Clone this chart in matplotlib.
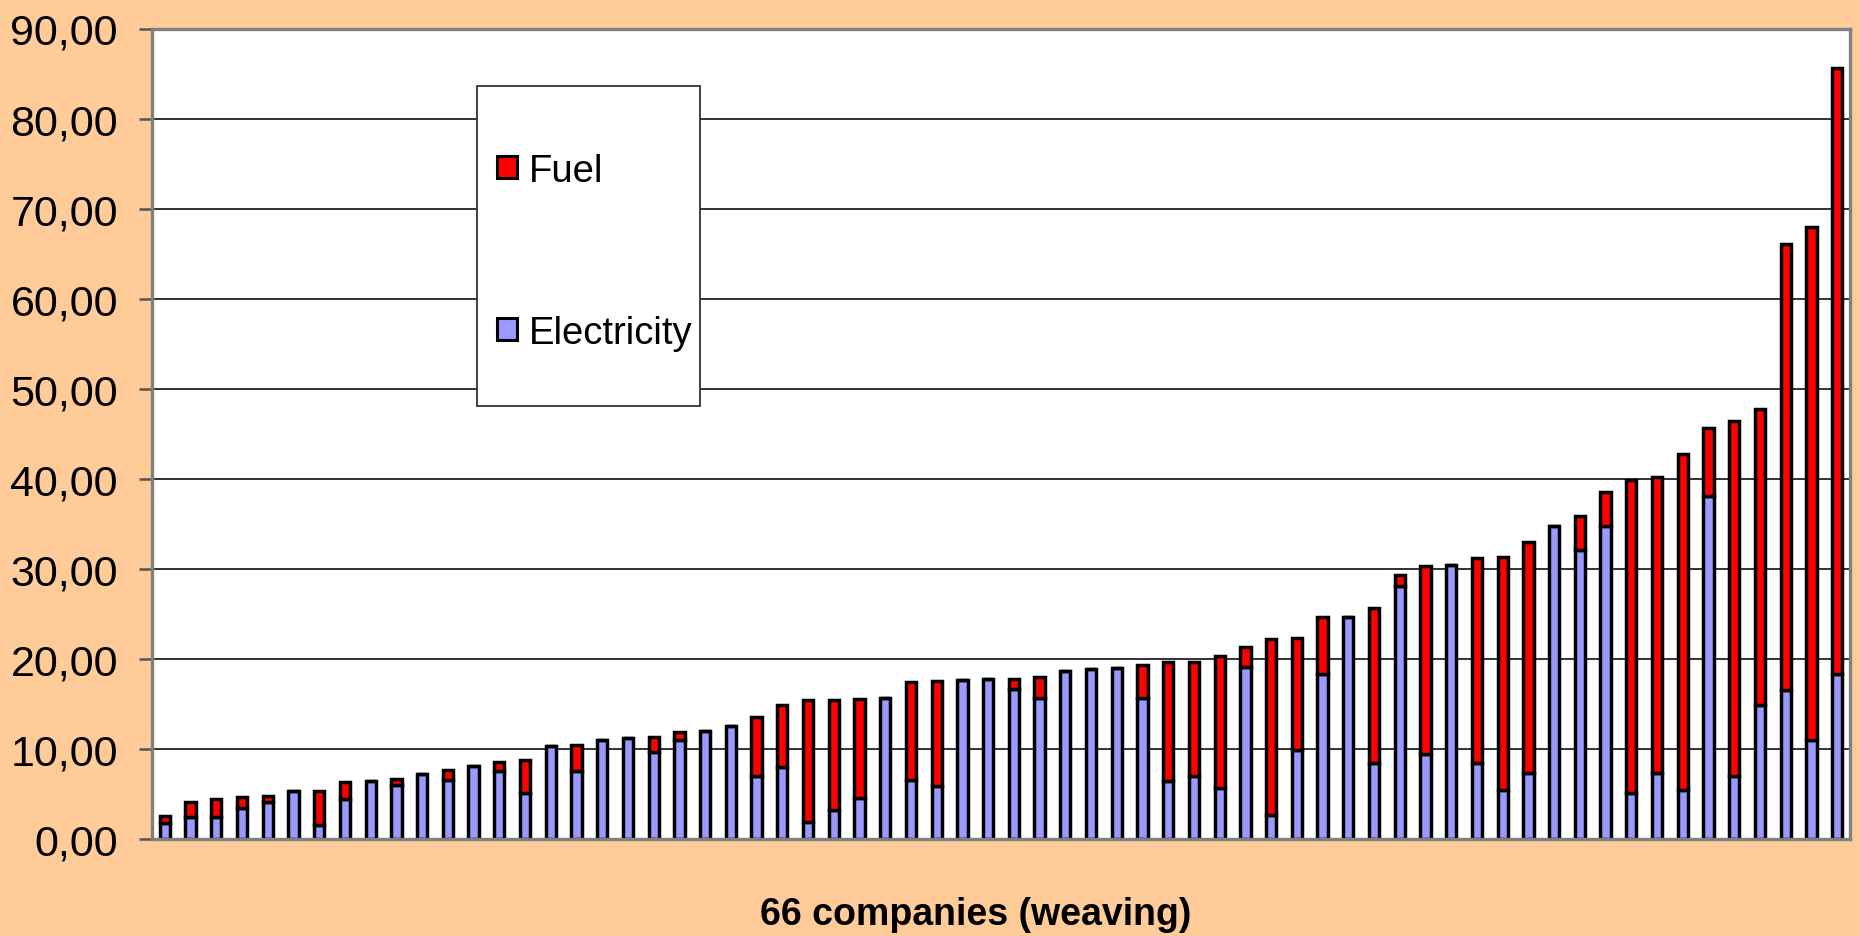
import matplotlib
matplotlib.use("Agg")
import matplotlib.pyplot as plt
from matplotlib.patches import Rectangle
import numpy as np

plt.rcParams['font.family'] = ['Liberation Sans', 'DejaVu Sans']

electricity = [1.8, 2.4, 2.4, 3.4, 4.1, 5.3, 1.6, 4.4, 6.4, 6.0,
               7.2, 6.5, 8.1, 7.6, 5.1, 10.3, 7.5, 11.0, 11.2, 9.7,
               11.0, 12.0, 12.6, 7.0, 8.0, 1.9, 3.2, 4.5, 15.7, 6.5,
               5.9, 17.7, 17.8, 16.7, 15.7, 18.7, 18.9, 19.0, 15.7, 6.4,
               7.0, 5.7, 19.1, 2.7, 9.9, 18.3, 24.7, 8.4, 28.1, 9.4,
               30.4, 8.4, 5.4, 7.3, 34.8, 32.1, 34.8, 5.1, 7.3, 5.4,
               38.1, 7.0, 14.9, 16.5, 11.0, 18.3]
fuel = [0.7, 1.7, 2.0, 1.3, 0.7, 0.0, 3.7, 1.9, 0.0, 0.7,
        0.0, 1.2, 0.0, 1.0, 3.7, 0.0, 2.9, 0.0, 0.0, 1.6,
        0.9, 0.0, 0.0, 6.5, 6.9, 13.5, 12.2, 11.1, 0.0, 10.9,
        11.6, 0.0, 0.0, 1.1, 2.3, 0.0, 0.0, 0.0, 3.6, 13.2,
        12.7, 14.6, 2.2, 19.5, 12.4, 6.4, 0.0, 17.2, 1.2, 20.9,
        0.0, 22.8, 25.9, 25.7, 0.0, 3.8, 3.7, 34.8, 32.9, 37.3,
        7.5, 39.4, 32.8, 49.6, 57.0, 67.3]
series_names = ["Fuel", "Electricity"]
y_ticks = [0, 10, 20, 30, 40, 50, 60, 70, 80, 90]
x_title = "66 companies (weaving)"

BG = "#FFCC99"
RED = "#FF0000"
BLUE = "#9999FF"

fig = plt.figure(figsize=(18.6, 9.37), dpi=100, facecolor=BG)
W, H = 1860, 937
ax = fig.add_axes([152 / W, 1 - 840 / H, (1850 - 152) / W, (840 - 29.5) / H])
ax.set_facecolor("white")

x = np.arange(len(electricity))
bw = 0.40
ax.bar(x, electricity, width=bw, color=BLUE, edgecolor="black", linewidth=2.5, zorder=3)
ax.bar(x, fuel, width=bw, bottom=electricity, color=RED, edgecolor="black", linewidth=2.5, zorder=3)

ax.set_xlim(-0.5, len(electricity) - 0.5)
ax.set_ylim(0, 90)
ax.set_yticks(y_ticks)
ax.set_yticklabels([f"{v:.2f}".replace(".", ",") for v in y_ticks], fontsize=31)
ax.set_xticks([])
ax.yaxis.grid(True, color="#222222", linewidth=1.3, zorder=0)
ax.set_axisbelow(True)
ax.tick_params(axis="y", length=9.5, width=1.8, color="#555555", pad=15, direction="out")
for s in ax.spines.values():
    s.set_color("#808080")
    s.set_linewidth(2.4)
    s.set_zorder(4)

fig.text(976 / W, 1 - 925 / H, x_title, fontsize=27, fontweight="bold",
         ha="center", va="baseline")

# legend box
lx0, ly0, lx1, ly1 = 477, 87, 700, 407
fig.add_artist(Rectangle((lx0 / W, 1 - ly1 / H), (lx1 - lx0) / W, (ly1 - ly0) / H,
                         transform=fig.transFigure, facecolor="white",
                         edgecolor="#333333", linewidth=1.3, zorder=10))
entries = [(series_names[0], RED, 168), (series_names[1], BLUE, 330)]
for name, col, yc in entries:
    fig.add_artist(Rectangle((497 / W, 1 - (yc + 11) / H), 20 / W, 22 / H,
                             transform=fig.transFigure, facecolor=col,
                             edgecolor="black", linewidth=2.2, zorder=11))
    fig.text(529 / W, 1 - yc / H, name, fontsize=27.5, ha="left", va="center_baseline",
             zorder=12)

fig.savefig("out.png", dpi=100, facecolor=BG)
